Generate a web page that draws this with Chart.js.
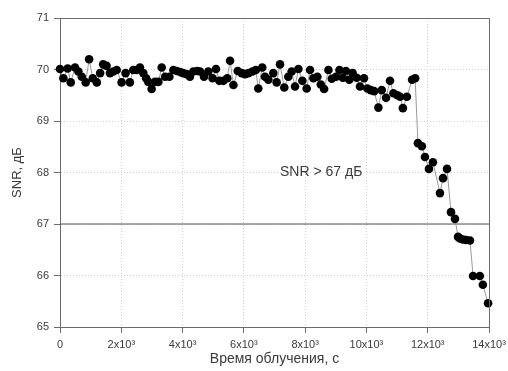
<!DOCTYPE html>
<html>
<head>
<meta charset="utf-8">
<script src="https://cdn.jsdelivr.net/npm/chart.js@4/dist/chart.umd.min.js"></script>
<style>
    html, body { margin: 0; padding: 0; background: #fff; }
    #wrap { width: 508px; height: 371px; }
</style>
</head>
<body>
<div id="wrap"><canvas id="snrChart"></canvas></div>
<script>
// ── Data: SNR vs irradiation time ─────────────────────────────────────────────
const timeSec = [
    0, 110, 250, 350, 490, 600, 710, 840, 950, 1070,
    1200, 1310, 1410, 1520, 1630, 1740, 1850, 2010, 2140, 2280,
    2390, 2500, 2610, 2720, 2810, 2880, 2990, 3100, 3210, 3320,
    3430, 3570, 3700, 3810, 3920, 4020, 4130, 4240, 4350, 4480,
    4570, 4700, 4840, 4980, 5090, 5200, 5330, 5460, 5550, 5660,
    5800, 5930, 6040, 6150, 6280, 6390, 6470, 6600, 6690, 6800,
    6960, 7070, 7180, 7320, 7450, 7560, 7670, 7780, 7910, 8050,
    8160, 8270, 8400, 8510, 8620, 8760, 8870, 9010, 9120, 9230,
    9330, 9440, 9550, 9680, 9790, 9920, 10030, 10140, 10250, 10390,
    10500, 10640, 10770, 10880, 11010, 11100, 11190, 11320, 11490, 11590,
    11680, 11810, 11910, 12040, 12170, 12400, 12500, 12630, 12760, 12890,
    12990, 13050, 13150, 13250, 13380, 13480, 13700, 13800, 13970,
];
const snrDb = [
    70.01, 69.83, 70.02, 69.75, 70.04, 69.96, 69.86, 69.75, 70.20, 69.83,
    69.75, 69.93, 70.10, 70.07, 69.93, 69.96, 69.99, 69.75, 69.93, 69.75,
    69.99, 69.99, 70.04, 69.93, 69.83, 69.76, 69.62, 69.76, 69.76, 70.04,
    69.86, 69.86, 69.99, 69.97, 69.95, 69.93, 69.91, 69.86, 69.96, 69.97,
    69.96, 69.86, 69.96, 69.83, 70.01, 69.78, 69.78, 69.83, 70.17, 69.70,
    69.97, 69.93, 69.91, 69.93, 69.96, 69.99, 69.63, 70.04, 69.86, 69.80,
    69.93, 69.75, 70.10, 69.65, 69.86, 69.96, 69.67, 70.01, 69.78, 69.63,
    69.99, 69.83, 69.86, 69.71, 69.62, 69.99, 69.82, 69.86, 69.99, 69.84,
    69.97, 69.80, 69.93, 69.84, 69.67, 69.83, 69.63, 69.60, 69.58, 69.26,
    69.60, 69.45, 69.78, 69.54, 69.50, 69.47, 69.25, 69.47, 69.80, 69.83,
    68.57, 68.51, 68.30, 68.07, 68.20, 67.60, 67.89, 68.07, 67.23, 67.10,
    66.75, 66.72, 66.70, 66.69, 66.68, 65.99, 65.99, 65.82, 65.46,
];

// threshold line and its caption
const thresholdDb   = 67;
const thresholdText = 'SNR > 67 дБ';
const thresholdTextAt = { x: 7180, y: 68 };

// axes
const xMin = 0, xMax = 14000, xStep = 2000;
const yMin = 65, yMax = 71, yStep = 1;
const xTitle = 'Время облучения, с';
const yTitle = 'SNR, дБ';

const FONT = '"Liberation Sans", Arial, sans-serif';
const AXIS_COLOR = '#6b6b6b';
const TEXT_COLOR = '#3a3a3a';

// 2000 -> "2x10³"
function xTickLabel(v) {
    if (v === 0) return '0';
    return (v / 1000) + 'x10³';
}

// ── Plugins ───────────────────────────────────────────────────────────────────
// closes the plot box on top and right
const frameBox = {
    id: 'frameBox',
    afterDraw(chart) {
        const { ctx, chartArea: a } = chart;
        ctx.save();
        ctx.strokeStyle = AXIS_COLOR;
        ctx.lineWidth = 1;
        ctx.beginPath();
        ctx.moveTo(a.left, a.top + 0.5);
        ctx.lineTo(a.right + 0.5, a.top + 0.5);
        ctx.lineTo(a.right + 0.5, a.bottom);
        ctx.stroke();
        ctx.restore();
    }
};

// caption above the threshold line
const thresholdLabel = {
    id: 'thresholdLabel',
    afterDatasetsDraw(chart) {
        const { ctx, scales } = chart;
        const px = scales.x.getPixelForValue(thresholdTextAt.x);
        const py = scales.y.getPixelForValue(thresholdTextAt.y);
        ctx.save();
        ctx.font = '14px ' + FONT;
        ctx.fillStyle = TEXT_COLOR;
        ctx.textAlign = 'left';
        ctx.textBaseline = 'middle';
        ctx.fillText(thresholdText, px, py);
        ctx.restore();
    }
};

// ── Chart ─────────────────────────────────────────────────────────────────────
const points = timeSec.map((t, i) => ({ x: t, y: snrDb[i] }));
const threshold = [{ x: xMin, y: thresholdDb }, { x: xMax, y: thresholdDb }];

new Chart(document.getElementById('snrChart'), {
    type: 'line',
    data: {
        datasets: [
            {
                data: threshold,
                borderColor: '#555',
                borderWidth: 1,
                pointRadius: 0,
                order: 2,
            },
            {
                data: points,
                borderColor: '#9a9a9a',
                borderWidth: 1,
                pointRadius: 4.3,
                pointBackgroundColor: '#000',
                pointBorderColor: '#000',
                pointBorderWidth: 0,
                tension: 0,
                clip: false,
                order: 1,
            },
        ],
    },
    options: {
        responsive: true,
        maintainAspectRatio: false,
        animation: false,
        events: [],
        layout: { padding: { top: 18, right: 19, bottom: 0, left: 0 } },
        plugins: {
            legend:  { display: false },
            tooltip: { enabled: false },
        },
        scales: {
            x: {
                type: 'linear',
                min: xMin, max: xMax,
                afterFit(scale) {
                    scale.height = 44;
                    scale.paddingLeft = 0;
                    scale.paddingRight = 0;
                },
                ticks: {
                    stepSize: xStep,
                    color: TEXT_COLOR,
                    font: { family: FONT, size: 11 },
                    padding: 5,
                    maxRotation: 0,
                    callback: xTickLabel,
                },
                grid: {
                    color: '#cfcfcf',
                    tickColor: AXIS_COLOR,
                    tickLength: 6,
                },
                border: { color: AXIS_COLOR, width: 1, dash: [1, 2] },
                title: {
                    display: true,
                    text: xTitle,
                    color: TEXT_COLOR,
                    font: { family: FONT, size: 14 },
                    padding: { top: 0, bottom: 3 },
                },
            },
            y: {
                min: yMin, max: yMax,
                afterFit(scale) { scale.width = 60; },
                ticks: {
                    stepSize: yStep,
                    color: TEXT_COLOR,
                    font: { family: FONT, size: 11 },
                    padding: 5,
                },
                grid: {
                    color: '#cfcfcf',
                    tickColor: AXIS_COLOR,
                    tickLength: 6,
                },
                border: { color: AXIS_COLOR, width: 1, dash: [1, 2] },
                title: {
                    display: true,
                    text: yTitle,
                    color: TEXT_COLOR,
                    font: { family: FONT, size: 13 },
                    padding: { top: 10, bottom: 0 },
                },
            },
        },
    },
    plugins: [frameBox, thresholdLabel],
});
</script>
</body>
</html>
